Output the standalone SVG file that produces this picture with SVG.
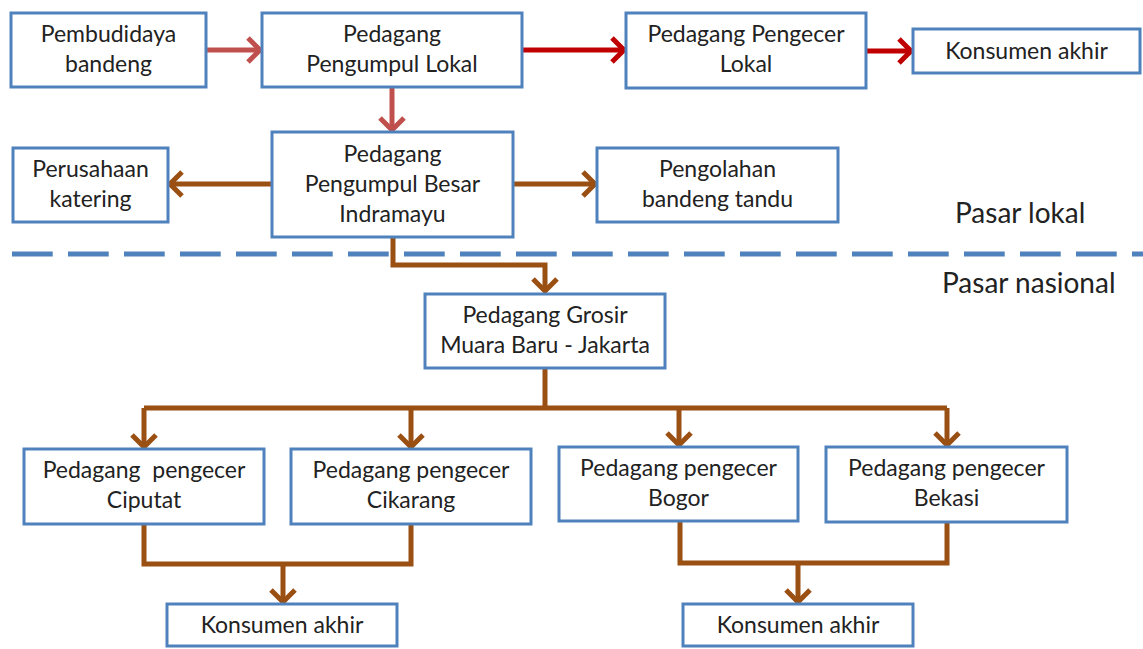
<svg xmlns="http://www.w3.org/2000/svg" width="1143" height="649" viewBox="0 0 1143 649">
<style>
.box{fill:#fff;stroke:#4f81bd;stroke-width:3}
.t{font-family:Lato,"Liberation Sans",sans-serif;font-size:23px;fill:#222;text-anchor:middle;white-space:pre}
.big{font-family:Lato,"Liberation Sans",sans-serif;font-size:28px;fill:#222}
.c{fill:none;stroke-width:5;stroke-linejoin:miter}
.red{stroke:#c0504d}
.dred{stroke:#c00000}
.brn{stroke:#9a4f13}
</style>
<defs>
<marker id="mR" markerUnits="userSpaceOnUse" viewBox="0 0 26 26" markerWidth="26" markerHeight="26" refX="23" refY="13" orient="auto" overflow="visible"><path d="M10,1 L22,13 L10,25" fill="none" stroke="#c0504d" stroke-width="5"/></marker>
<marker id="mD" markerUnits="userSpaceOnUse" viewBox="0 0 26 26" markerWidth="26" markerHeight="26" refX="23" refY="13" orient="auto" overflow="visible"><path d="M10,1 L22,13 L10,25" fill="none" stroke="#c00000" stroke-width="5"/></marker>
<marker id="mB" markerUnits="userSpaceOnUse" viewBox="0 0 26 26" markerWidth="26" markerHeight="26" refX="23" refY="13" orient="auto" overflow="visible"><path d="M10,1 L22,13 L10,25" fill="none" stroke="#9a4f13" stroke-width="5"/></marker>
</defs>
<rect width="1143" height="649" fill="#fff"/>
<line x1="12" y1="254" x2="1143" y2="254" stroke="#4f81bd" stroke-width="5" stroke-dasharray="40.7 15.3"/>
<text class="big" x="955" y="223">Pasar lokal</text>
<text class="big" x="942" y="293">Pasar nasional</text>
<g id="connectors">
<path class="c red" d="M206,50 H261" marker-end="url(#mR)"/>
<path class="c red" d="M392,87 V131" marker-end="url(#mR)"/>
<path class="c dred" d="M522,50 H625" marker-end="url(#mD)"/>
<path class="c dred" d="M866,51 H912" marker-end="url(#mD)"/>
<path class="c brn" d="M272,184 H169" marker-end="url(#mB)"/>
<path class="c brn" d="M513,184 H596" marker-end="url(#mB)"/>
<path class="c brn" d="M393,237 V265 H545 V292" marker-end="url(#mB)"/>
<path class="c brn" d="M545,368 V408"/>
<path class="c brn" d="M144,408 H947"/>
<path class="c brn" d="M144,408 V448" marker-end="url(#mB)"/>
<path class="c brn" d="M411,408 V448" marker-end="url(#mB)"/>
<path class="c brn" d="M679,408 V446" marker-end="url(#mB)"/>
<path class="c brn" d="M947,408 V446" marker-end="url(#mB)"/>
<path class="c brn" d="M144,524 V564 H411 V524"/>
<path class="c brn" d="M283,564 V603" marker-end="url(#mB)"/>
<path class="c brn" d="M680,521 V563 H947 V522"/>
<path class="c brn" d="M798,563 V603" marker-end="url(#mB)"/>
</g>
<g id="n1"><rect class="box" x="11" y="13" width="195" height="74"/><text class="t" x="108.5" y="42">Pembudidaya</text><text class="t" x="108.5" y="72">bandeng</text></g>
<g id="n2"><rect class="box" x="262" y="13" width="260" height="74"/><text class="t" x="392" y="42">Pedagang</text><text class="t" x="392" y="72">Pengumpul Lokal</text></g>
<g id="n3"><rect class="box" x="626" y="13" width="240" height="75"/><text class="t" x="746" y="42">Pedagang Pengecer</text><text class="t" x="746" y="72">Lokal</text></g>
<g id="n4"><rect class="box" x="913" y="29" width="227" height="44"/><text class="t" x="1026.5" y="58.5">Konsumen akhir</text></g>
<g id="n5"><rect class="box" x="272" y="132" width="241" height="105"/><text class="t" x="392.5" y="162">Pedagang</text><text class="t" x="392.5" y="192">Pengumpul Besar</text><text class="t" x="392.5" y="222">Indramayu</text></g>
<g id="n6"><rect class="box" x="13" y="148" width="155" height="74"/><text class="t" x="90.5" y="177">Perusahaan</text><text class="t" x="90.5" y="207">katering</text></g>
<g id="n7"><rect class="box" x="597" y="148" width="241" height="74"/><text class="t" x="717.5" y="177">Pengolahan</text><text class="t" x="717.5" y="207">bandeng tandu</text></g>
<g id="n8"><rect class="box" x="425" y="294" width="240" height="74"/><text class="t" x="545" y="323">Pedagang Grosir</text><text class="t" x="545" y="353">Muara Baru - Jakarta</text></g>
<g id="n9"><rect class="box" x="24" y="449" width="240" height="75"/><text class="t" x="144" y="478">Pedagang  pengecer</text><text class="t" x="144" y="508">Ciputat</text></g>
<g id="n10"><rect class="box" x="291" y="449" width="240" height="75"/><text class="t" x="411" y="478">Pedagang pengecer</text><text class="t" x="411" y="508">Cikarang</text></g>
<g id="n11"><rect class="box" x="559" y="447" width="239" height="74"/><text class="t" x="678.5" y="476">Pedagang pengecer</text><text class="t" x="678.5" y="506">Bogor</text></g>
<g id="n12"><rect class="box" x="826" y="447" width="241" height="75"/><text class="t" x="946.5" y="476">Pedagang pengecer</text><text class="t" x="946.5" y="506">Bekasi</text></g>
<g id="n13"><rect class="box" x="167" y="604" width="230" height="42"/><text class="t" x="282" y="633">Konsumen akhir</text></g>
<g id="n14"><rect class="box" x="683" y="604" width="230" height="42"/><text class="t" x="798" y="633">Konsumen akhir</text></g>
</svg>
